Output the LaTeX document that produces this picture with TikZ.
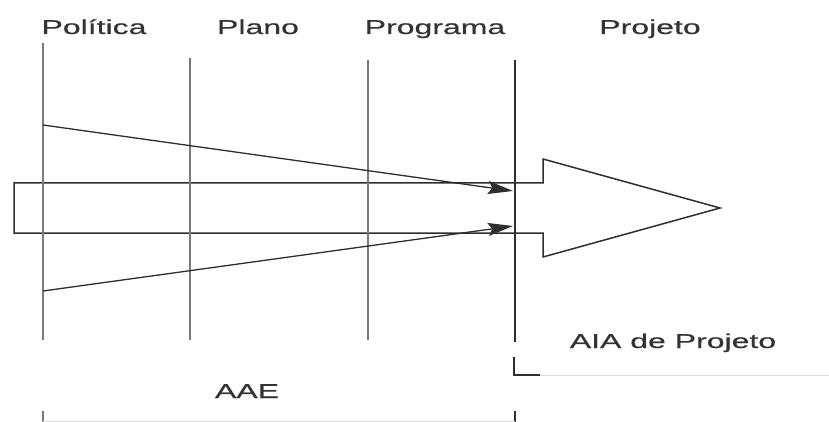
\documentclass[tikz,border=0pt]{standalone}
\usepackage{fontspec}
\setmainfont{Liberation Sans}
\newfontfamily\lblfont[FakeStretch=1.6,FakeBold=0.4]{Liberation Sans}
\usetikzlibrary{arrows.meta}
\definecolor{txt}{HTML}{333333}
\definecolor{vline}{HTML}{7A7A7A}
\definecolor{dk}{HTML}{2E2E2E}
\definecolor{faint}{HTML}{DDDDDD}
\begin{document}
\begin{tikzpicture}[x=1pt,y=-1pt,
 lbl/.style={font=\lblfont\fontsize{20}{24}\selectfont, text=txt, inner sep=0pt, anchor=base},
 phase/.style={draw=vline, line width=2pt},
 mainline/.style={draw=dk, line width=1.5pt},
 outline/.style={draw=dk, line width=1.5pt, line join=miter},
 conv/.style={draw=dk, line width=1.3pt, -{Stealth[length=25pt,width=13pt,inset=4pt]}},
 faintline/.style={draw=faint, line width=1pt}]
\useasboundingbox (0,0) rectangle (829,422);
% labels
\node[lbl] (pol) at (94,34) {Política};
\node[lbl] (pla) at (258,34) {Plano};
\node[lbl] (pro) at (435,34) {Programa};
\node[lbl] (prj) at (650,34) {Projeto};
\node[lbl] (aia) at (673,348) {AIA de Projeto};
\node[lbl] (aae) at (247,398) {AAE};
% coordinates
\coordinate (p1t) at (43,43);  \coordinate (p1b) at (43,340);
\coordinate (p2t) at (190,58); \coordinate (p2b) at (190,340);
\coordinate (p3t) at (368,60); \coordinate (p3b) at (368,340);
\coordinate (p4t) at (515,60); \coordinate (p4b) at (515,342);
\coordinate (s1) at (43,125);  \coordinate (e1) at (513,191);
\coordinate (s2) at (43,291);  \coordinate (e2) at (513,226);
% big arrow
\draw[outline] (14,183) -- (543,183) -- (543,159) -- (720,208) -- (543,257) -- (543,233) -- (14,233) -- cycle;
% phase lines
\draw[phase] (p1t) -- (p1b);
\draw[phase] (p2t) -- (p2b);
\draw[phase] (p3t) -- (p3b);
\draw[mainline] (p4t) -- (p4b);
% converging arrows
\draw[conv] (s1) -- (e1);
\draw[conv] (s2) -- (e2);
% AIA bracket
\draw[mainline] (514,357) -- (514,375) -- (540,375);
\draw[faintline] (540,375) -- (829,375);
% AAE bracket
\draw[phase] (43,411) -- (43,422);
\draw[mainline] (515,411) -- (515,422);
\draw[faintline] (43,421) -- (515,421);
\end{tikzpicture}
\end{document}
